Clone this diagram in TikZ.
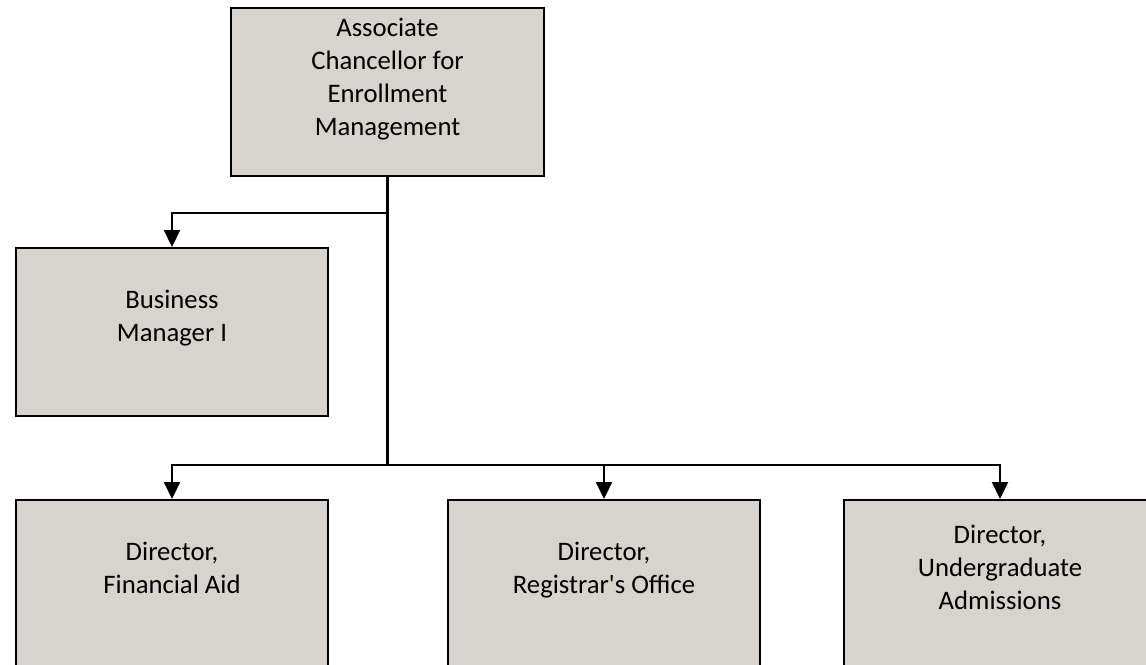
\documentclass[tikz,border=0pt]{standalone}
\usepackage{fontspec}
\setmainfont{Carlito}
\usetikzlibrary{arrows.meta}
\definecolor{boxgrey}{RGB}{215,211,205}
\begin{document}
\begin{tikzpicture}[x=0.02cm, y=-0.02cm,
        post/.style={draw, line width=0.045cm, fill=boxgrey, anchor=north, inner sep=0pt,
            text width=6.24cm, align=flush center, font=\fontsize{15.2}{18.8}\selectfont},
        link/.style={line width=0.045cm},
        down/.style={link, -{Triangle[length=0.34cm, width=0.32cm]}}]
        \useasboundingbox (0,0) rectangle (1146,665);

        \node[post, text width=6.26cm, text height=0.56cm, text depth=2.8cm] (acem) at (387.5, 7) {Associate\\Chancellor for\\Enrollment\\Management};
        \node[post, text height=1.2cm, text depth=2.16cm] (bizmgr) at (172, 247) {Business\\Manager I};
        \node[post, text height=1.2cm, text depth=2.12cm] (finaid) at (172, 499) {Director,\\Financial Aid};
        \node[post, text height=1.2cm, text depth=2.12cm] (regoff) at (604, 499) {Director,\\Registrar\textquotesingle s Office};
        \node[post, text height=0.87cm, text depth=2.45cm] (ugadm) at (1000, 499) {Director,\\Undergraduate\\Admissions};

        \coordinate (split) at (387.5, 213);
        \coordinate (hub) at (387.5, 465);

        \draw[link] (acem) -- (hub);
        \draw[down] (split) -| (bizmgr);
        \draw[down] (hub) -| (finaid);
        \draw[down] (hub) -| (regoff);
        \draw[down] (hub) -| (ugadm);

    \end{tikzpicture}
\end{document}
